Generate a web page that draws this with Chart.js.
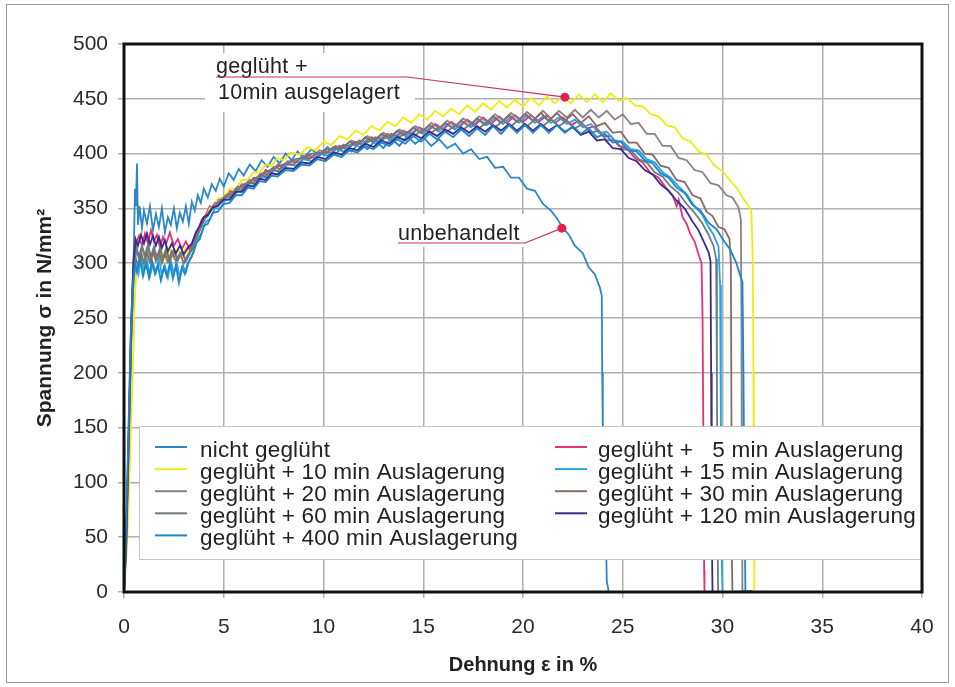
<!DOCTYPE html>
<html lang="de">
<head>
<meta charset="utf-8">
<title>Spannung-Dehnung</title>
<script src="https://cdn.jsdelivr.net/npm/chart.js@4.4.1/dist/chart.umd.min.js"></script>
<style>
  html, body { margin: 0; padding: 0; background: #fff; }
  canvas { display: block; }
</style>
</head>
<body>
<canvas id="tensileChart" width="955" height="687"></canvas>
<script>
const tensileChart = document.getElementById("tensileChart");

// ----------- Series data: [Dehnung %, Spannung N/mm²] --------- //
const nichtGeglueht = [
  [0,0],[0.1,35],[0.2,110],[0.3,190],[0.4,262],[0.5,318],[0.55,368],[0.6,352],[0.65,391],[0.7,335],[0.78,352],
  [0.9,332],[1.0,348],[1.15,336],[1.3,352],[1.45,330],[1.6,345],[1.75,333],[1.9,350],[2.05,328],[2.2,342],
  [2.35,335],[2.5,350],[2.65,332],[2.8,346],[2.95,338],[3.1,352],[3.25,336],[3.4,356],[3.55,348],[3.7,362],
  [3.85,355],[4.0,368],[4.2,360],[4.4,372],[4.6,366],[4.8,377],[5.0,370],[5.25,382],[5.5,376],[5.75,386],
  [6.0,380],[6.3,390],[6.6,384],[6.9,394],[7.2,388],[7.5,397],[7.8,391],[8.1,400],[8.4,394],[8.7,402],
  [9.0,396],[9.4,404],[9.8,398],[10.2,406],[10.6,399],[11.0,408],[11.4,402],[11.8,410],[12.2,404],[12.6,412],
  [13.0,405],[13.4,414],[13.8,407],[14.2,416],[14.6,409],[15.0,415],[15.4,407],[15.8,413],[16.2,405],[16.6,409],
  [17.0,400],[17.4,404],[17.8,395],[18.2,397],[18.6,387],[19.0,388],[19.4,378],[19.8,378],[20.2,368],[20.6,366],
  [21.0,354],[21.4,348],[21.7,341],[22.0,332],[22.3,326],[22.6,316],[23.0,309],[23.3,296],[23.6,290],[23.85,278],
  [23.95,270],[23.97,200],[24.0,150],[24.15,60],[24.2,10],[24.3,0]
];
const aus5 = [
  [0,0],[0.12,50],[0.25,150],[0.38,250],[0.5,300],[0.6,318],[0.75,325],[0.9,316],[1.05,327],[1.2,318],
  [1.35,330],[1.5,320],[1.65,326],[1.8,315],[1.95,324],[2.1,317],[2.3,328],[2.5,316],[2.7,322],[2.9,313],
  [3.1,320],[3.3,312],[3.5,322],[3.7,330],[3.9,340],[4.1,344],[4.3,352],[4.5,350],[4.7,358],[5.0,358],
  [5.3,366],[5.6,364],[5.9,372],[6.2,371],[6.5,378],[6.8,377],[7.1,385],[7.4,382],[7.7,390],[8.0,387],
  [8.4,394],[8.8,392],[9.2,399],[9.6,396],[10.0,403],[10.4,400],[10.8,407],[11.2,404],[11.6,411],[12.0,408],
  [12.4,415],[12.8,411],[13.2,418],[13.6,414],[14.0,421],[14.4,417],[14.8,424],[15.2,420],[15.6,427],[16.0,422],
  [16.4,429],[16.8,424],[17.2,431],[17.6,426],[18.0,433],[18.4,427],[18.8,434],[19.2,428],[19.6,435],[20.0,429],
  [20.4,435],[20.8,429],[21.2,435],[21.6,428],[22.0,433],[22.4,426],[22.8,430],[23.2,423],[23.6,425],[24.0,416],
  [24.4,416],[24.8,407],[25.2,405],[25.6,396],[26.0,392],[26.4,382],[26.8,378],[27.2,368],[27.5,362],[27.7,352],
  [27.8,358],[28.0,342],[28.2,336],[28.4,326],[28.6,320],[28.8,308],[28.95,300],[29.0,250],[29.05,120],[29.08,20],
  [29.1,0]
];
const aus10 = [
  [0,0],[0.15,40],[0.3,120],[0.45,210],[0.55,270],[0.62,292],[0.75,300],[0.9,306],[1.05,298],[1.2,308],
  [1.35,300],[1.5,310],[1.7,302],[1.9,311],[2.1,303],[2.3,312],[2.5,304],[2.7,313],[2.9,306],[3.1,314],
  [3.3,308],[3.5,318],[3.7,326],[3.9,336],[4.1,342],[4.3,350],[4.5,352],[4.7,359],[5.0,360],[5.3,368],
  [5.6,368],[5.9,376],[6.2,376],[6.5,383],[6.8,383],[7.1,390],[7.4,389],[7.7,396],[8.0,394],[8.4,401],
  [8.8,399],[9.2,406],[9.6,403],[10.0,411],[10.4,408],[10.8,416],[11.2,413],[11.6,421],[12.0,417],[12.4,425],
  [12.8,421],[13.2,429],[13.6,425],[14.0,433],[14.4,428],[14.8,436],[15.2,431],[15.6,439],[16.0,434],[16.4,441],
  [16.8,436],[17.2,444],[17.6,438],[18.0,446],[18.4,440],[18.8,448],[19.2,442],[19.6,449],[20.0,443],[20.4,451],
  [20.8,444],[21.2,452],[21.6,446],[22.0,452],[22.4,446],[22.8,454],[23.2,447],[23.6,454],[24.0,447],[24.4,455],
  [24.8,448],[25.2,451],[25.6,444],[26.0,443],[26.4,436],[26.8,434],[27.2,426],[27.6,424],[28.0,414],[28.4,411],
  [28.8,402],[29.2,399],[29.6,389],[30.0,384],[30.4,375],[30.7,369],[31.0,360],[31.3,353],[31.45,346],[31.52,300],
  [31.55,200],[31.57,60],[31.6,0]
];
const aus15 = [
  [0,0],[0.1,40],[0.22,130],[0.35,230],[0.48,285],[0.6,298],[0.72,290],[0.85,305],[1.0,292],[1.15,303],
  [1.3,288],[1.45,300],[1.6,292],[1.75,304],[1.9,289],[2.05,298],[2.2,287],[2.35,302],[2.5,290],[2.65,300],
  [2.8,286],[2.95,298],[3.1,292],[3.3,304],[3.5,310],[3.7,322],[3.9,328],[4.1,338],[4.3,340],[4.55,350],
  [4.8,350],[5.1,358],[5.4,358],[5.7,366],[6.0,365],[6.3,373],[6.6,372],[6.9,379],[7.2,378],[7.5,385],
  [7.8,383],[8.2,390],[8.6,389],[9.0,395],[9.4,393],[9.8,400],[10.2,398],[10.6,404],[11.0,402],[11.4,409],
  [11.8,406],[12.2,413],[12.6,409],[13.0,416],[13.4,412],[13.8,419],[14.2,415],[14.6,422],[15.0,418],[15.4,425],
  [15.8,420],[16.2,427],[16.6,422],[17.0,429],[17.4,424],[17.8,431],[18.2,426],[18.6,433],[19.0,427],[19.4,434],
  [19.8,428],[20.2,435],[20.6,428],[21.0,434],[21.4,428],[21.8,433],[22.2,427],[22.6,431],[23.0,424],[23.4,427],
  [23.8,419],[24.2,420],[24.6,412],[25.0,411],[25.4,404],[25.8,403],[26.2,395],[26.6,392],[27.0,383],[27.4,378],
  [27.8,370],[28.2,363],[28.6,352],[29.0,344],[29.3,333],[29.55,326],[29.8,315],[29.88,280],[29.92,150],[29.95,40],
  [30.0,0]
];
const aus20 = [
  [0,0],[0.12,45],[0.25,140],[0.38,240],[0.5,295],[0.62,312],[0.75,304],[0.9,314],[1.05,305],[1.2,313],
  [1.35,303],[1.5,311],[1.65,304],[1.8,313],[1.95,303],[2.1,310],[2.3,302],[2.5,311],[2.7,303],[2.9,310],
  [3.1,302],[3.3,309],[3.5,316],[3.7,328],[3.9,334],[4.1,344],[4.3,346],[4.55,355],[4.8,355],[5.1,362],
  [5.4,362],[5.7,370],[6.0,369],[6.3,376],[6.6,375],[6.9,382],[7.2,381],[7.5,388],[7.8,386],[8.2,393],
  [8.6,392],[9.0,398],[9.4,396],[9.8,403],[10.2,401],[10.6,407],[11.0,405],[11.4,412],[11.8,409],[12.2,416],
  [12.6,412],[13.0,419],[13.4,415],[13.8,422],[14.2,418],[14.6,425],[15.0,421],[15.4,428],[15.8,423],[16.2,430],
  [16.6,425],[17.0,432],[17.4,427],[17.8,434],[18.2,429],[18.6,436],[19.0,430],[19.4,437],[19.8,431],[20.2,438],
  [20.6,432],[21.0,439],[21.4,432],[21.8,439],[22.2,433],[22.6,440],[23.0,433],[23.4,440],[23.8,433],[24.2,439],
  [24.6,431],[25.0,436],[25.4,427],[25.8,428],[26.2,418],[26.6,418],[27.0,407],[27.4,407],[27.8,396],[28.2,394],
  [28.6,385],[29.0,383],[29.4,373],[29.8,371],[30.2,362],[30.5,360],[30.8,351],[30.92,340],[30.95,250],[30.97,100],
  [31.0,0]
];
const aus30 = [
  [0,0],[0.1,40],[0.22,125],[0.35,225],[0.47,285],[0.58,305],[0.7,298],[0.85,310],[1.0,300],[1.15,309],
  [1.3,301],[1.45,311],[1.6,302],[1.75,310],[1.9,300],[2.05,309],[2.2,301],[2.4,311],[2.6,302],[2.8,309],
  [3.0,300],[3.2,308],[3.4,312],[3.6,322],[3.8,330],[4.0,340],[4.2,343],[4.45,352],[4.7,353],[5.0,360],
  [5.3,360],[5.6,368],[5.9,367],[6.2,374],[6.5,373],[6.8,381],[7.1,379],[7.4,386],[7.7,384],[8.1,391],
  [8.5,390],[8.9,397],[9.3,395],[9.7,401],[10.1,400],[10.5,406],[10.9,404],[11.3,411],[11.7,408],[12.1,415],
  [12.5,411],[12.9,418],[13.3,414],[13.7,421],[14.1,417],[14.5,424],[14.9,419],[15.3,426],[15.7,421],[16.1,428],
  [16.5,423],[16.9,430],[17.3,425],[17.7,432],[18.1,426],[18.5,434],[18.9,428],[19.3,435],[19.7,429],[20.1,436],
  [20.5,430],[20.9,437],[21.3,430],[21.7,437],[22.1,430],[22.5,436],[22.9,428],[23.3,434],[23.7,425],[24.1,428],
  [24.5,419],[24.9,420],[25.3,410],[25.7,410],[26.1,400],[26.5,399],[26.9,389],[27.3,387],[27.7,376],[28.1,374],
  [28.5,362],[28.9,359],[29.2,347],[29.5,343],[29.8,333],[30.1,331],[30.35,322],[30.42,300],[30.45,150],[30.47,30],
  [30.5,0],[31.5,1]
];
const aus60 = [
  [0,0],[0.12,48],[0.25,150],[0.38,248],[0.5,298],[0.62,315],[0.75,306],[0.9,316],[1.05,307],[1.2,317],
  [1.35,306],[1.5,315],[1.65,305],[1.8,314],[1.95,304],[2.1,313],[2.3,303],[2.5,312],[2.7,303],[2.9,311],
  [3.1,302],[3.3,310],[3.5,318],[3.7,328],[3.9,336],[4.1,342],[4.3,348],[4.55,352],[4.8,357],[5.1,360],
  [5.4,365],[5.7,367],[6.0,372],[6.3,374],[6.6,378],[6.9,380],[7.2,384],[7.5,386],[7.8,389],[8.2,391],
  [8.6,395],[9.0,396],[9.4,400],[9.8,400],[10.2,404],[10.6,404],[11.0,408],[11.4,407],[11.8,412],[12.2,410],
  [12.6,415],[13.0,413],[13.4,418],[13.8,415],[14.2,420],[14.6,417],[15.0,422],[15.4,419],[15.8,424],[16.2,420],
  [16.6,426],[17.0,422],[17.4,427],[17.8,423],[18.2,429],[18.6,424],[19.0,430],[19.4,425],[19.8,431],[20.2,425],
  [20.6,431],[21.0,425],[21.4,431],[21.8,425],[22.2,430],[22.6,423],[23.0,427],[23.4,419],[23.8,421],[24.2,412],
  [24.6,412],[25.0,404],[25.4,403],[25.8,395],[26.2,392],[26.6,383],[27.0,379],[27.4,370],[27.8,364],[28.2,354],
  [28.6,346],[29.0,336],[29.3,326],[29.55,316],[29.68,304],[29.72,200],[29.75,60],[29.78,0]
];
const aus120 = [
  [0,0],[0.1,42],[0.22,135],[0.35,240],[0.47,300],[0.58,322],[0.7,316],[0.85,326],[1.0,318],[1.15,327],
  [1.3,317],[1.45,325],[1.6,316],[1.75,324],[1.9,314],[2.05,321],[2.2,311],[2.4,318],[2.6,309],[2.8,316],
  [3.0,308],[3.2,314],[3.4,318],[3.6,328],[3.8,334],[4.0,342],[4.2,344],[4.45,351],[4.7,352],[5.0,358],
  [5.3,358],[5.6,365],[5.9,365],[6.2,371],[6.5,370],[6.8,377],[7.1,376],[7.4,382],[7.7,381],[8.1,387],
  [8.5,386],[8.9,392],[9.3,391],[9.7,397],[10.1,395],[10.5,401],[10.9,399],[11.3,405],[11.7,403],[12.1,409],
  [12.5,406],[12.9,412],[13.3,409],[13.7,415],[14.1,412],[14.5,418],[14.9,414],[15.3,420],[15.7,416],[16.1,422],
  [16.5,418],[16.9,424],[17.3,419],[17.7,425],[18.1,420],[18.5,426],[18.9,421],[19.3,427],[19.7,421],[20.1,427],
  [20.5,421],[20.9,427],[21.3,421],[21.7,426],[22.1,420],[22.5,424],[22.9,417],[23.3,420],[23.7,412],[24.1,413],
  [24.5,405],[24.9,404],[25.3,396],[25.7,393],[26.1,385],[26.5,381],[26.9,372],[27.3,366],[27.7,357],[28.1,350],
  [28.5,338],[28.8,330],[29.1,318],[29.3,310],[29.4,302],[29.43,200],[29.46,60],[29.5,0]
];
const aus400 = [
  [0,0],[0.08,40],[0.2,130],[0.32,225],[0.44,280],[0.55,300],[0.65,292],[0.8,304],[0.95,288],[1.1,300],
  [1.25,287],[1.4,302],[1.55,290],[1.7,298],[1.85,284],[2.0,296],[2.15,288],[2.3,300],[2.45,286],[2.6,298],
  [2.75,282],[2.9,296],[3.05,290],[3.2,300],[3.4,306],[3.6,318],[3.8,322],[4.0,334],[4.2,336],[4.45,346],
  [4.7,347],[5.0,354],[5.3,355],[5.6,362],[5.9,362],[6.2,369],[6.5,368],[6.8,375],[7.1,374],[7.4,380],
  [7.7,379],[8.1,385],[8.5,384],[8.9,390],[9.3,389],[9.7,395],[10.1,393],[10.5,399],[10.9,397],[11.3,403],
  [11.7,401],[12.1,407],[12.5,404],[12.9,410],[13.3,407],[13.7,413],[14.1,409],[14.5,416],[14.9,411],[15.3,418],
  [15.7,413],[16.1,420],[16.5,415],[16.9,422],[17.3,416],[17.7,423],[18.1,417],[18.5,425],[18.9,418],[19.3,426],
  [19.7,419],[20.1,426],[20.5,419],[20.9,426],[21.3,419],[21.7,426],[22.1,419],[22.5,425],[22.9,418],[23.3,423],
  [23.7,415],[24.1,418],[24.5,410],[24.9,411],[25.3,403],[25.7,402],[26.1,394],[26.5,391],[26.9,382],[27.3,378],
  [27.7,369],[28.1,364],[28.5,353],[28.9,348],[29.3,337],[29.7,331],[30.05,321],[30.4,312],[30.7,300],[30.9,288],
  [31.0,283],[31.05,200],[31.1,80],[31.15,0]
];

const seriesNames = [
  "nicht geglüht",
  "geglüht +   5 min Auslagerung",
  "geglüht + 10 min Auslagerung",
  "geglüht + 15 min Auslagerung",
  "geglüht + 20 min Auslagerung",
  "geglüht + 30 min Auslagerung",
  "geglüht + 60 min Auslagerung",
  "geglüht + 120 min Auslagerung",
  "geglüht + 400 min Auslagerung",
];
const seriesData = [nichtGeglueht, aus5, aus10, aus15, aus20, aus30, aus60, aus120, aus400];
const seriesColors = [
  "#2c87c9", "#e5307d", "#f0ec12", "#23a6e6", "#8e7f88",
  "#8b6a62", "#6e7a82", "#3b2a86", "#1b86cf",
];

const xTicks = [0, 5, 10, 15, 20, 25, 30, 35, 40];
const yTicks = [0, 50, 100, 150, 200, 250, 300, 350, 400, 450, 500];

// marked points on the curves
const markUntreated = [21.95, 332];
const markTempered = [22.1, 451.5];

const FONT = "'Liberation Sans', Arial, sans-serif";

// ----------- callouts, legend box and plot frame --------- //
const chartDecor = {
  id: "chartDecor",
  beforeDraw(chart) {
    const { ctx, width, height } = chart;
    ctx.save();
    ctx.fillStyle = "#ffffff";
    ctx.fillRect(0, 0, width, height);
    ctx.strokeStyle = "#9a9a9a";
    ctx.lineWidth = 1;
    ctx.strokeRect(6.5, 4.5, 942, 678);
    ctx.restore();
  },
  afterDatasetsDraw(chart) {
    const { ctx, chartArea: a, scales } = chart;
    const px = (v) => scales.x.getPixelForValue(v);
    const py = (v) => scales.y.getPixelForValue(v);
    ctx.save();

    // text backgrounds
    ctx.fillStyle = "#fff";
    ctx.fillRect(205, 53, 210, 59);
    ctx.fillRect(391, 214, 136, 33);

    ctx.fillStyle = "#222";
    ctx.font = `21.5px ${FONT}`;
    ctx.letterSpacing = "0.3px";
    ctx.textBaseline = "alphabetic";
    ctx.textAlign = "left";
    ctx.fillText("geglüht +", 216, 73);
    ctx.fillText("10min ausgelagert", 218, 99);
    ctx.fillText("unbehandelt", 398, 240);

    // leader lines
    ctx.strokeStyle = "#c8306a";
    ctx.lineWidth = 1.2;
    ctx.beginPath();
    ctx.moveTo(216, 77);
    ctx.lineTo(407, 77);
    ctx.lineTo(px(markTempered[0]), py(markTempered[1]));
    ctx.moveTo(398, 243);
    ctx.lineTo(525, 243);
    ctx.lineTo(px(markUntreated[0]), py(markUntreated[1]));
    ctx.stroke();

    ctx.fillStyle = "#e0204f";
    [markTempered, markUntreated].forEach(([mx, my]) => {
      ctx.beginPath();
      ctx.arc(px(mx), py(my), 4.5, 0, Math.PI * 2);
      ctx.fill();
    });

    // legend, two columns
    ctx.fillStyle = "#fff";
    ctx.fillRect(139.5, 426.5, 781, 133);
    ctx.strokeStyle = "#c4c4c4";
    ctx.lineWidth = 1;
    ctx.strokeRect(139.5, 426.5, 781, 133);
    const cols = [{ line: 155, text: 200 }, { line: 555, text: 598 }];
    ctx.font = `22.5px ${FONT}`;
    ctx.letterSpacing = "0.2px";
    chart.data.datasets.forEach((ds, i) => {
      const col = cols[i % 2];
      const rowY = 447 + Math.floor(i / 2) * 22.1;
      ctx.strokeStyle = ds.borderColor;
      ctx.lineWidth = 2;
      ctx.beginPath();
      ctx.moveTo(col.line, rowY);
      ctx.lineTo(col.line + 32, rowY);
      ctx.stroke();
      ctx.fillStyle = "#222";
      ctx.fillText(ds.label, col.text, rowY + 9.5);
    });
    ctx.letterSpacing = "0px";

    // plot frame
    ctx.strokeStyle = "#111";
    ctx.lineWidth = 3;
    ctx.strokeRect(a.left, a.top, a.right - a.left, a.bottom - a.top);
    ctx.restore();
  },
};

// ----------- Stress-strain Chart --------- //
new Chart(tensileChart, {
  type: "scatter",
  data: {
    datasets: seriesNames.map((name, i) => ({
      label: name,
      data: seriesData[i].map(([x, y]) => ({ x, y })),
      showLine: true,
      borderColor: seriesColors[i],
      backgroundColor: seriesColors[i],
      borderWidth: 1.8,
      pointRadius: 0,
      tension: 0,
      order: seriesNames.length - i, // later series on top
    })),
  },
  options: {
    responsive: false,
    animation: false,
    devicePixelRatio: 1,
    layout: { padding: { left: 0, top: 44, right: 33, bottom: 0 } },
    plugins: {
      legend: { display: false },
      tooltip: { enabled: false },
    },
    scales: {
      x: {
        type: "linear",
        min: 0,
        max: 40,
        afterBuildTicks: (scale) => { scale.ticks = xTicks.map((v) => ({ value: v })); },
        afterFit: (scale) => { scale.height = 95; },
        ticks: { color: "#2b2b2b", font: { family: FONT, size: 21 }, padding: 17, maxRotation: 0 },
        grid: { color: "#b0b0b0", lineWidth: 1.5, tickLength: 6, tickColor: "#b0b0b0" },
        border: { display: false },
        title: {
          display: true,
          text: "Dehnung ε in %",
          color: "#222",
          font: { family: FONT, size: 20, weight: "bold" },
          padding: { top: 0, bottom: 10 },
        },
      },
      y: {
        type: "linear",
        min: 0,
        max: 500,
        afterBuildTicks: (scale) => { scale.ticks = yTicks.map((v) => ({ value: v })); },
        afterFit: (scale) => { scale.width = 124; },
        ticks: { color: "#2b2b2b", font: { family: FONT, size: 21 }, padding: 10 },
        grid: { color: "#b0b0b0", lineWidth: 1.5, tickLength: 6, tickColor: "#b0b0b0" },
        border: { display: false },
        title: {
          display: true,
          text: "Spannung σ in N/mm²",
          color: "#222",
          font: { family: FONT, size: 21, weight: "bold" },
          padding: { top: 33, bottom: 0 },
        },
      },
    },
  },
  plugins: [chartDecor],
});
</script>
</body>
</html>
